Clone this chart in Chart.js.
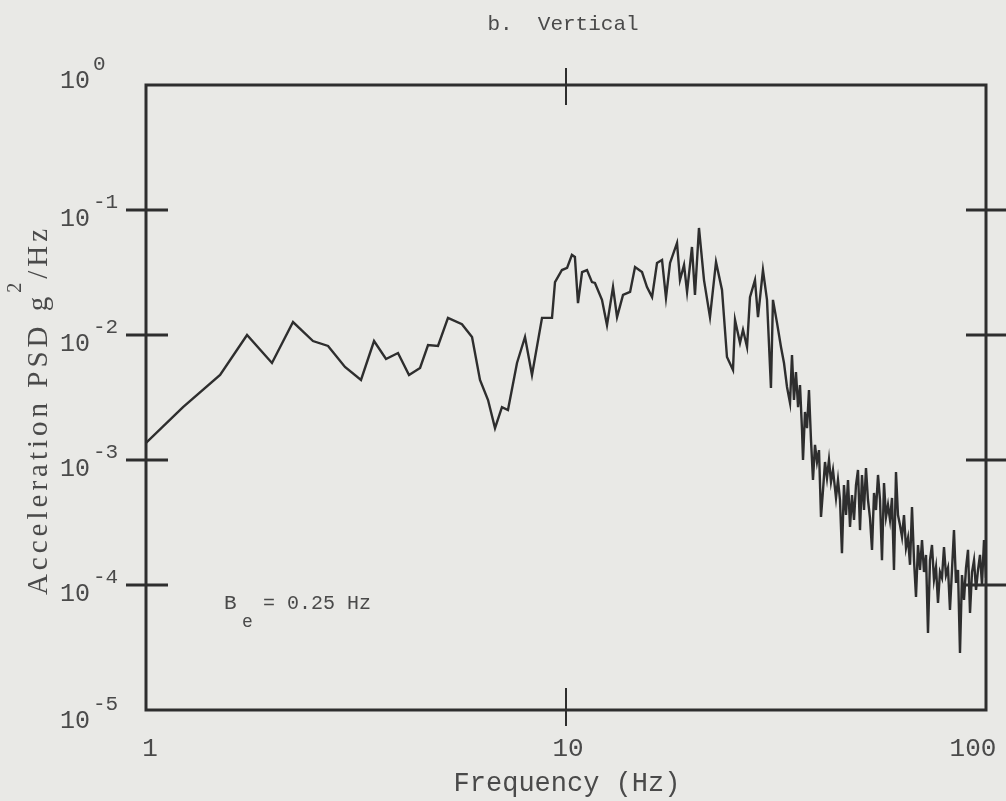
<!DOCTYPE html>
<html>
<head>
<meta charset="utf-8">
<script src="https://cdn.jsdelivr.net/npm/chart.js@4.4.1/dist/chart.umd.min.js"></script>
<style>
  html, body { margin: 0; padding: 0; background: #e9e9e6; }
  #wrap { width: 1006px; height: 801px; }
</style>
</head>
<body>
<div id="wrap"><canvas id="psd" width="1006" height="801"></canvas></div>
<script>
// Frequency (Hz) and vertical acceleration PSD (g^2/Hz)
const freqHz = [
  1.00, 1.225, 1.501, 1.740, 1.995, 2.239, 2.498, 2.713, 2.977, 3.250,
  3.491, 3.728, 3.981, 4.229, 4.493, 4.694, 4.957, 5.236, 5.653, 5.974,
  6.241, 6.522, 6.776, 7.039, 7.275, 7.644, 7.987, 8.299, 8.768, 9.262,
  9.415, 9.78, 10.06, 10.33, 10.50, 10.68, 10.92, 11.22, 11.53, 11.72,
  12.18, 12.52, 12.94, 13.23, 13.67, 14.21, 14.60, 15.17, 15.59, 16.03,
  16.47, 16.93, 17.30, 17.69, 18.38, 18.68, 19.10, 19.42, 19.95, 20.28,
  20.73, 21.31, 22.02, 22.76, 23.52, 24.17, 24.98, 25.26, 25.96, 26.39,
  26.98, 27.42, 28.18, 28.65, 29.44, 30.10, 30.76, 31.10, 31.80, 32.50,
  33.04, 33.59,
  34.15, 34.52, 34.90, 35.28, 35.69, 36.07, 36.47, 36.67, 37.07, 37.48,
  37.89, 38.31, 38.73, 39.16, 39.59, 40.03, 40.47, 40.92, 41.37, 41.82,
  42.28, 42.75, 43.22, 43.94, 44.42, 44.91, 45.40, 45.90, 46.42, 46.93,
  47.45, 47.97, 48.50, 49.03, 49.57, 50.12, 50.67, 51.23, 51.79, 52.36,
  52.94, 53.53, 54.12, 54.71, 55.32, 55.93, 56.54, 57.17, 57.80, 58.43,
  59.08, 59.73, 60.38, 61.05, 61.72, 62.40, 63.10, 63.79, 64.50, 65.21,
  65.93, 66.65, 67.39, 68.13, 68.88, 69.64, 70.41, 71.18, 71.97, 72.76,
  73.56, 74.37, 75.19, 76.02, 76.86, 77.70, 78.56, 79.43, 80.30, 81.19,
  82.08, 82.99, 83.90, 84.83, 85.77, 86.71, 87.67, 88.64, 89.62, 90.61,
  91.61, 92.62, 93.64, 94.68, 95.72, 96.77, 97.83, 98.91, 100
];
const psdVert = [
  1.37e-3, 2.65e-3, 4.79e-3, 1.00e-2, 5.97e-3, 1.27e-2, 8.95e-3, 8.17e-3, 5.55e-3, 4.37e-3,
  8.95e-3, 6.43e-3, 7.18e-3, 4.79e-3, 5.45e-3, 8.32e-3, 8.17e-3, 1.37e-2, 1.22e-2, 9.64e-3,
  4.37e-3, 3.02e-3, 1.80e-3, 2.65e-3, 2.51e-3, 5.97e-3, 9.64e-3, 4.79e-3, 1.37e-2, 1.37e-2,
  2.65e-2, 3.31e-2, 3.44e-2, 4.37e-2, 4.21e-2, 1.80e-2, 3.19e-2, 3.31e-2, 2.65e-2, 2.61e-2,
  1.91e-2, 1.20e-2, 2.42e-2, 1.39e-2, 2.09e-2, 2.21e-2, 3.50e-2, 3.19e-2, 2.42e-2, 2.01e-2,
  3.77e-2, 3.98e-2, 1.98e-2, 3.77e-2, 5.45e-2, 2.75e-2, 3.63e-2, 2.21e-2, 5.06e-2, 2.09e-2,
  7.18e-2, 2.75e-2, 1.39e-2, 3.84e-2, 2.29e-2, 6.67e-3, 5.25e-3, 1.32e-2, 8.63e-3, 1.10e-2,
  8.02e-3, 2.01e-2, 2.75e-2, 1.39e-2, 3.31e-2, 1.91e-2, 3.77e-3, 1.91e-2, 1.25e-2, 8.02e-3,
  5.97e-3, 3.84e-3,
  2.86e-3, 6.92e-3, 3.02e-3, 5.06e-3, 2.65e-3, 3.98e-3, 1.74e-3, 1.00e-3, 2.42e-3, 1.80e-3,
  3.63e-3, 1.45e-3, 6.92e-4, 1.32e-3, 9.64e-4, 1.20e-3, 3.50e-4, 5.75e-4, 9.64e-4, 7.18e-4,
  1.00e-3, 6.67e-4, 8.32e-4, 4.97e-4, 6.92e-4, 4.79e-4, 1.80e-4, 6.31e-4, 3.63e-4, 6.92e-4,
  2.91e-4, 5.25e-4, 3.31e-4, 6.31e-4, 8.32e-4, 2.75e-4, 7.59e-4, 3.98e-4, 8.63e-4, 4.79e-4,
  3.44e-4, 1.91e-4, 5.45e-4, 3.98e-4, 7.59e-4, 4.79e-4, 1.58e-4, 6.55e-4, 3.50e-4, 4.37e-4,
  3.31e-4, 4.97e-4, 1.32e-4, 8.02e-4, 3.63e-4, 3.02e-4, 2.42e-4, 3.63e-4, 1.98e-4, 2.38e-4,
  1.45e-4, 4.21e-4, 1.58e-4, 8.02e-5, 2.09e-4, 1.32e-4, 2.29e-4, 1.27e-4, 1.74e-4, 4.13e-5,
  1.58e-4, 2.09e-4, 1.10e-4, 1.39e-4, 7.18e-5, 1.27e-4, 1.14e-4, 2.01e-4, 1.20e-4, 1.37e-4,
  6.31e-5, 1.32e-4, 2.75e-4, 1.04e-4, 1.32e-4, 2.86e-5, 1.20e-4, 7.59e-5, 1.37e-4, 1.91e-4,
  5.97e-5, 1.27e-4, 1.58e-4, 9.12e-5, 1.32e-4, 1.74e-4, 1.00e-4, 2.29e-4, 1.14e-4
];

const xTicks = [1, 10, 100];
const xTickLabels = ['1', '10', '100'];
const yTicks = [1, 1e-1, 1e-2, 1e-3, 1e-4, 1e-5];
const yTickExps = ['0', '-1', '-2', '-3', '-4', '-5'];
const titleText = 'b.  Vertical';
const xTitle = 'Frequency (Hz)';
const noteText = '= 0.25 Hz';

const INK = '#2e2e2e';
const TEXT = '#4a4a4a';
const MONO = '"Liberation Mono", "DejaVu Sans Mono", monospace';
const SERIF = '"Liberation Serif", "DejaVu Serif", serif';

const frame = {
  id: 'frame',
  beforeDraw(chart) {
    const c = chart.ctx;
    c.save();
    c.fillStyle = '#e9e9e6';
    c.fillRect(0, 0, chart.width, chart.height);
    c.restore();
  },
  afterDraw(chart) {
    const c = chart.ctx;
    const a = chart.chartArea;
    const xs = chart.scales.x;
    const ys = chart.scales.y;
    c.save();

    // box
    c.strokeStyle = INK;
    c.lineWidth = 3;
    c.strokeRect(a.left, a.top, a.right - a.left, a.bottom - a.top);

    // y ticks crossing the left and right axes (inner decades only)
    yTicks.forEach((v, i) => {
      if (i === 0 || i === yTicks.length - 1) return;
      const py = ys.getPixelForValue(v);
      c.beginPath();
      c.moveTo(a.left - 20, py);
      c.lineTo(a.left + 22, py);
      c.moveTo(a.right - 20, py);
      c.lineTo(a.right + 20, py);
      c.stroke();
    });
    // x tick at 10 on top and bottom
    const p10 = xs.getPixelForValue(10);
    c.lineWidth = 2;
    c.beginPath();
    c.moveTo(p10, a.top - 17);
    c.lineTo(p10, a.top + 20);
    c.moveTo(p10, a.bottom - 22);
    c.lineTo(p10, a.bottom + 16);
    c.stroke();

    // y tick labels: 10 with superscript exponent
    c.fillStyle = TEXT;
    c.textBaseline = 'alphabetic';
    c.textAlign = 'left';
    yTicks.forEach((v, i) => {
      const py = ys.getPixelForValue(v);
      let base = py + 16;
      if (i === 0) base = py + 3;
      if (i === yTicks.length - 1) base = py + 18;
      c.font = '25px ' + MONO;
      c.fillText('10', 60, base);
      c.font = '21px ' + MONO;
      c.fillText(yTickExps[i], 93, base - 18);
    });

    // x tick labels
    c.font = '26px ' + MONO;
    c.textAlign = 'center';
    const xLabelPos = [150, 568, 973];
    xTicks.forEach((v, i) => {
      c.fillText(xTickLabels[i], xLabelPos[i], 756);
    });

    // axis titles
    c.font = '27px ' + MONO;
    c.fillText(xTitle, 567, 791);
    c.font = '21px ' + MONO;
    c.fillText(titleText, 563, 30);

    c.save();
    c.translate(47, 410);
    c.rotate(-Math.PI / 2);
    c.font = '29px ' + SERIF;
    c.letterSpacing = '4px';
    c.textAlign = 'left';
    const part1 = 'Acceleration PSD g';
    const w1 = c.measureText(part1).width;
    const w2 = c.measureText('/Hz').width;
    const total = w1 + 14 + w2;
    const x0 = -total / 2;
    c.fillText(part1, x0, 0);
    c.font = '20px ' + SERIF;
    c.fillText('2', x0 + w1, -26);
    c.font = '29px ' + SERIF;
    c.fillText('/Hz', x0 + w1 + 14, 0);
    c.restore();

    // bandwidth note
    c.font = '21px ' + MONO;
    c.textAlign = 'left';
    c.fillText('B', 224, 609);
    c.font = '18px ' + MONO;
    c.fillText('e', 242, 627);
    c.font = '20px ' + MONO;
    c.fillText(noteText, 263, 609);

    c.restore();
  }
};

const points = freqHz.map((f, i) => ({ x: f, y: psdVert[i] }));

new Chart(document.getElementById('psd'), {
  type: 'scatter',
  data: {
    datasets: [{
      data: points,
      showLine: true,
      borderColor: INK,
      borderWidth: 2.4,
      pointRadius: 0,
      tension: 0,
    }],
  },
  options: {
    responsive: false,
    animation: false,
    layout: { padding: { left: 146, right: 20, top: 85, bottom: 91 } },
    plugins: { legend: { display: false }, tooltip: { enabled: false } },
    scales: {
      x: { type: 'logarithmic', min: 1, max: 100, display: false },
      y: { type: 'logarithmic', min: 1e-5, max: 1, display: false },
    },
  },
  plugins: [frame],
});
</script>
</body>
</html>
